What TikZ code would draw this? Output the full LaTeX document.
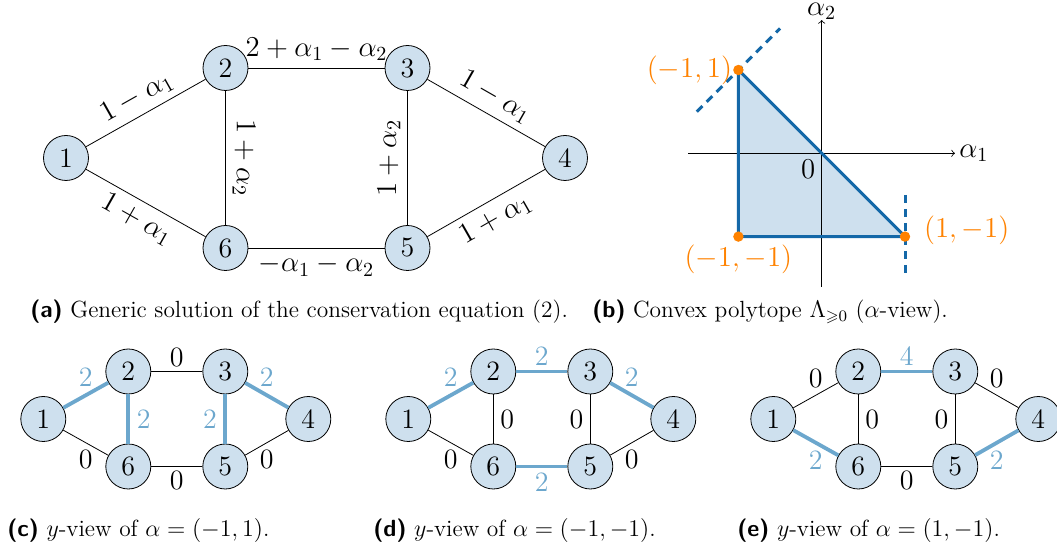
\documentclass[tikz,border=0pt]{standalone}
\usepackage{amsmath,amssymb}

\definecolor{nodefill}{RGB}{206,224,238}
\definecolor{polyblue}{RGB}{20,104,168}
\definecolor{flowblue}{RGB}{108,167,205}
\definecolor{cornerorange}{RGB}{255,130,0}

\newcommand{\graphfont}{\fontsize{14}{16}\selectfont}
\newcommand{\capfont}{\fontsize{11.7}{14}\selectfont}
\newcommand{\subcap}[2]{{\sffamily\bfseries(#1)}~#2}

\tikzset{
	vertex/.style={circle, draw, fill=nodefill, minimum size=22.5pt, inner sep=0pt},
	flow/.style={line width=1.9pt, flowblue},
	flowlabel/.style={text=flowblue},
	polyline/.style={line width=1.5pt, polyblue},
	corner/.style={text=cornerorange},
	caption/.style={anchor=base west, font=\capfont, inner sep=0pt},
}

\begin{document}
\begin{tikzpicture}[x=0.5pt, y=-0.5pt, font=\graphfont]
	\useasboundingbox (0,0) rectangle (1057,550);

	% (a) generic solution
	\node[vertex] (a1) at (66,158) {1};
	\node[vertex] (a2) at (225.5,68) {2};
	\node[vertex] (a3) at (407.5,68) {3};
	\node[vertex] (a4) at (565,158) {4};
	\node[vertex] (a5) at (407.5,248) {5};
	\node[vertex] (a6) at (225.5,248) {6};

	\draw (a1) -- node[sloped, above] {$1-\alpha_1$} (a2);
	\draw (a2) -- node[above] {$2+\alpha_1-\alpha_2$} (a3);
	\draw (a3) -- node[sloped, above] {$1-\alpha_1$} (a4);
	\draw (a2) -- node[sloped, above] {$1+\alpha_2$} (a6);
	\draw (a5) -- node[sloped, above] {$1+\alpha_2$} (a3);
	\draw (a1) -- node[sloped, below] {$1+\alpha_1$} (a6);
	\draw (a6) -- node[below] {$-\alpha_1-\alpha_2$} (a5);
	\draw (a5) -- node[sloped, below] {$1+\alpha_1$} (a4);

	\node[caption] (capa) at (30,318) {\subcap{a}{Generic solution of the conservation equation (2).}};

	% (b) polytope in the alpha-plane
	\begin{scope}[shift={(821.7,153.3)}, x=41.65pt, y=41.65pt]
		\coordinate (o) at (0,0);
		\coordinate (pA) at (-1,1);
		\coordinate (pB) at (-1,-1);
		\coordinate (pC) at (1,-1);
		\fill[nodefill] (pA) -- (pB) -- (pC) -- cycle;

		% axes
		\draw[->] (-1.6,0) -- (1.6,0) node[right, inner sep=2pt] {$\alpha_1$};
		\draw[->] (0,-1.6) -- (0,1.6) node[above, inner sep=0pt] {$\alpha_2$};
		\node[below left, inner sep=3pt] (zero) at (o) {$0$};

		\draw[polyline] (pA) -- (pB) -- (pC) -- cycle;
		\draw[polyline, dash pattern=on 4pt off 3pt] (-1.5,0.5) -- (-0.5,1.5);
		\draw[polyline, dash pattern=on 4pt off 3pt] (1,-0.5) -- (1,-1.5);

		\fill[cornerorange] (pA) circle (2.6pt);
		\fill[cornerorange] (pB) circle (2.6pt);
		\fill[cornerorange] (pC) circle (2.6pt);
		\node[corner, left, inner sep=3pt] (lA) at (pA) {$(-1,1)$};
		\node[corner, below, inner sep=4pt] (lB) at (pB) {$(-1,-1)$};
		\node[corner, right, xshift=6pt, yshift=3pt] (lC) at (pC) {$(1,-1)$};
	\end{scope}

	\node[caption] (capb) at (592,318) {\subcap{b}{Convex polytope $\Lambda_{\geqslant 0}$ ($\alpha$-view).}};

	% (c) y-view of (-1,1)
	\begin{scope}[shift={(43.3,419)}]
		\foreach \n/\px/\py in {1/0/0, 2/85/-47.5, 3/182/-47.5, 4/265/0, 5/182/47.5, 6/85/47.5}
			\node[vertex] (c\n) at (\px,\py) {\n};
		\draw[flow] (c1) -- node[above, flowlabel] {2} (c2);
		\draw (c2) -- node[above, inner sep=2pt] {0} (c3);
		\draw[flow] (c3) -- node[above, flowlabel] {2} (c4);
		\draw[flow] (c2) -- node[right, flowlabel] {2} (c6);
		\draw[flow] (c3) -- node[left, flowlabel] {2} (c5);
		\draw (c1) -- node[below] {0} (c6);
		\draw (c6) -- node[below, inner sep=2pt] {0} (c5);
		\draw (c5) -- node[below] {0} (c4);
	\end{scope}
	\node[caption] (capc) at (7,536.7) {\subcap{c}{$y$-view of $\alpha=(-1,1)$.}};

	% (d) y-view of (-1,-1)
	\begin{scope}[shift={(408.3,419)}]
		\foreach \n/\px/\py in {1/0/0, 2/85/-47.5, 3/182/-47.5, 4/265/0, 5/182/47.5, 6/85/47.5}
			\node[vertex] (d\n) at (\px,\py) {\n};
		\draw[flow] (d1) -- node[above, flowlabel] {2} (d2);
		\draw[flow] (d2) -- node[above, inner sep=2pt, flowlabel] {2} (d3);
		\draw[flow] (d3) -- node[above, flowlabel] {2} (d4);
		\draw (d2) -- node[right] {0} (d6);
		\draw (d3) -- node[left] {0} (d5);
		\draw (d1) -- node[below] {0} (d6);
		\draw[flow] (d6) -- node[below, inner sep=2pt, flowlabel] {2} (d5);
		\draw (d5) -- node[below] {0} (d4);
	\end{scope}
	\node[caption] (capd) at (373,536.7) {\subcap{d}{$y$-view of $\alpha=(-1,-1)$.}};

	% (e) y-view of (1,-1)
	\begin{scope}[shift={(773.3,419)}]
		\foreach \n/\px/\py in {1/0/0, 2/85/-47.5, 3/182/-47.5, 4/265/0, 5/182/47.5, 6/85/47.5}
			\node[vertex] (e\n) at (\px,\py) {\n};
		\draw (e1) -- node[above] {0} (e2);
		\draw[flow] (e2) -- node[above, inner sep=2pt, flowlabel] {4} (e3);
		\draw (e3) -- node[above] {0} (e4);
		\draw (e2) -- node[right] {0} (e6);
		\draw (e3) -- node[left] {0} (e5);
		\draw[flow] (e1) -- node[below, flowlabel] {2} (e6);
		\draw (e6) -- node[below, inner sep=2pt] {0} (e5);
		\draw[flow] (e5) -- node[below, flowlabel] {2} (e4);
	\end{scope}
	\node[caption] (cape) at (737,536.7) {\subcap{e}{$y$-view of $\alpha=(1,-1)$.}};
\end{tikzpicture}
\end{document}
